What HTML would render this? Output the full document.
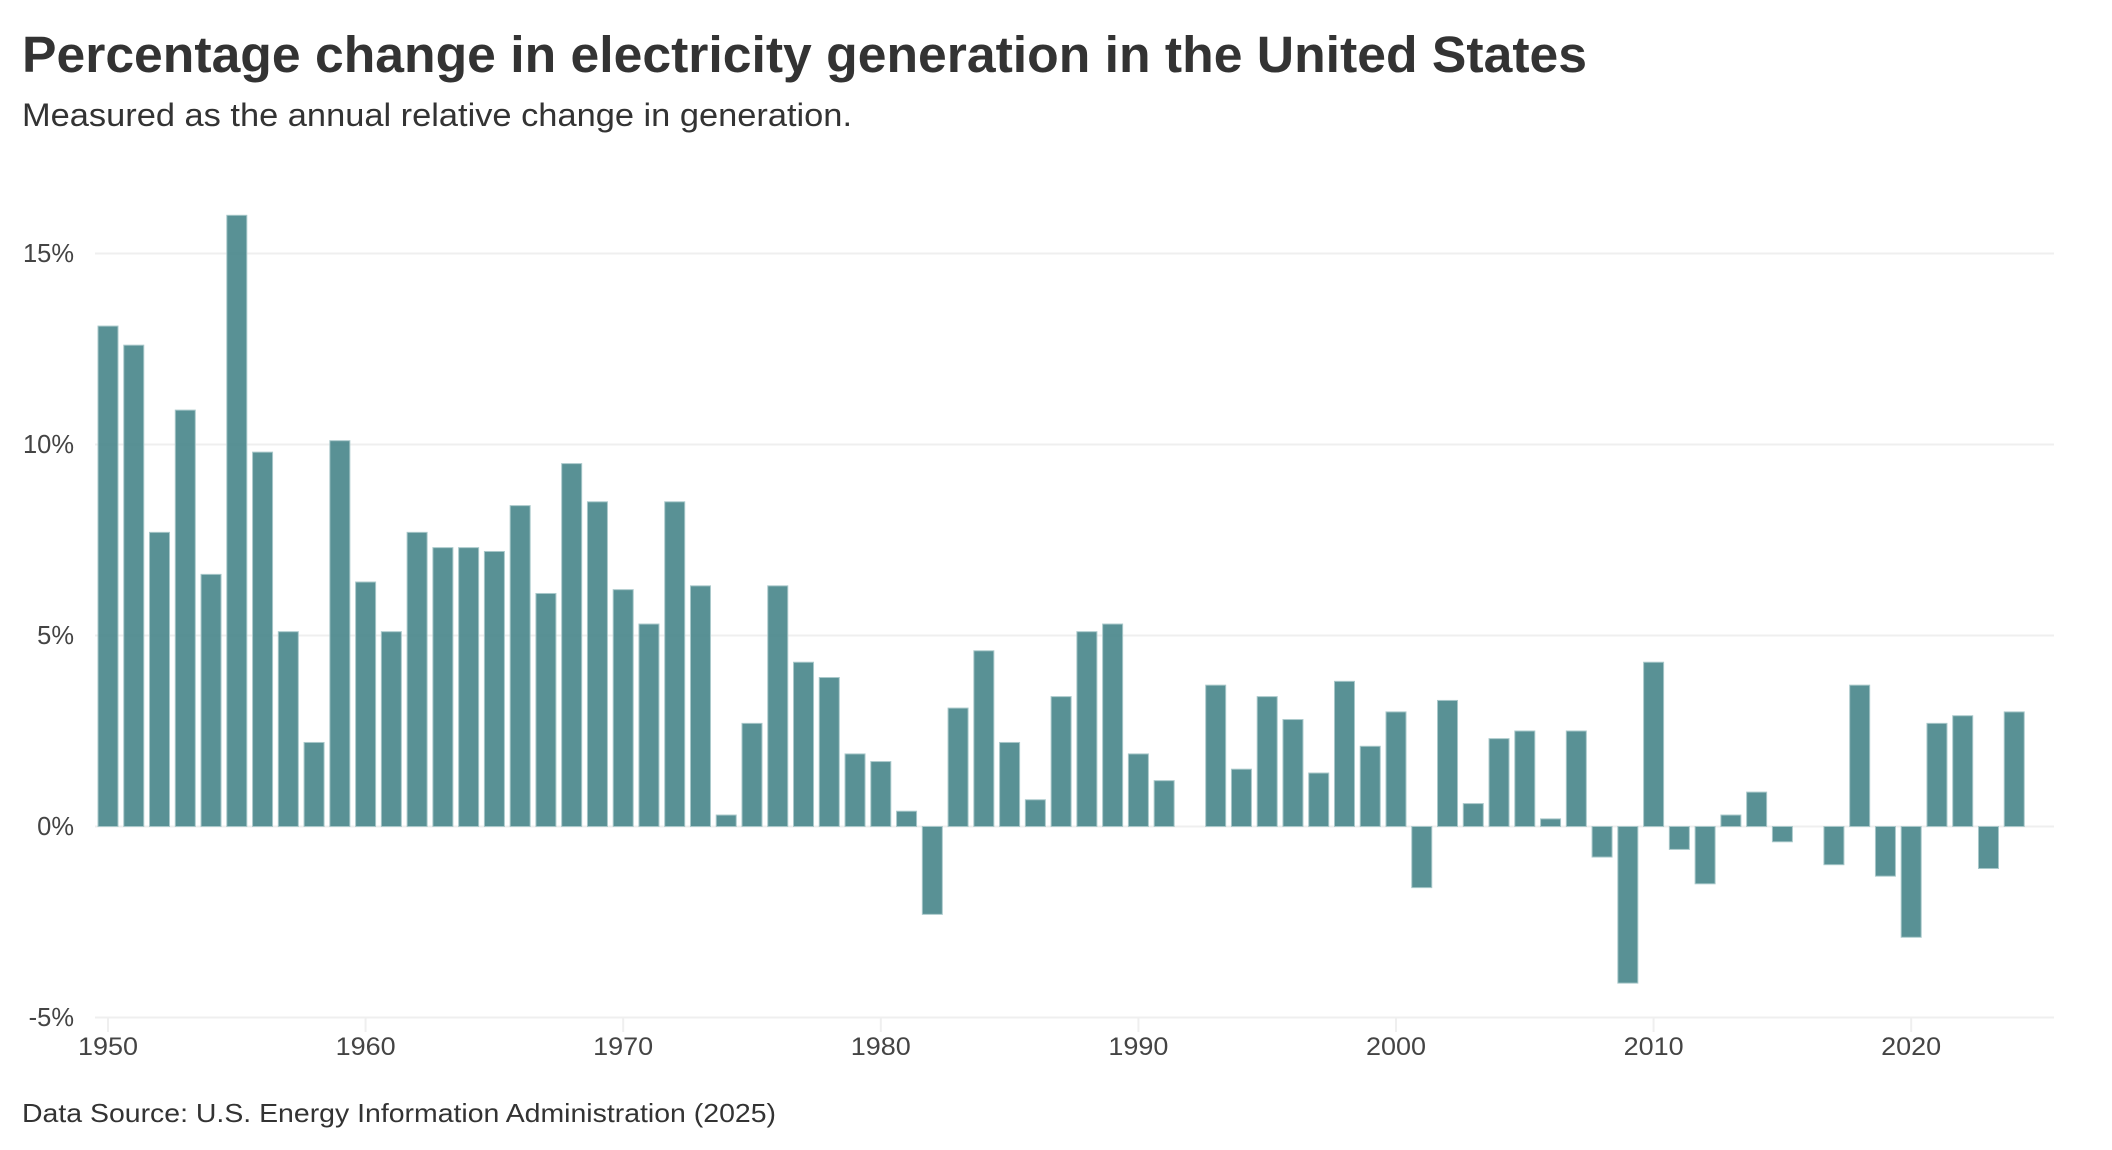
<!DOCTYPE html>
<html lang="en">
<head>
<meta charset="utf-8">
<title>Percentage change in electricity generation in the United States</title>
<style>
  html, body { margin: 0; padding: 0; background: #ffffff; }
  svg { display: block; font-family: "Liberation Sans", sans-serif; }
</style>
</head>
<body>
<svg id="chart" xmlns="http://www.w3.org/2000/svg" width="2112" height="1150" viewBox="0 0 2112 1150">
  <rect x="0" y="0" width="2112" height="1150" fill="#ffffff"/>
  <text x="22" y="72" font-size="51" font-weight="700" fill="#333333" textLength="1565" lengthAdjust="spacingAndGlyphs">Percentage change in electricity generation in the United States</text>
  <text x="22" y="126" font-size="32" fill="#333333" textLength="830" lengthAdjust="spacingAndGlyphs">Measured as the annual relative change in generation.</text>
  <g id="grid"></g>
  <g id="x-axis"></g>
  <g id="y-axis"></g>
  <g id="bars"></g>
  <text x="22" y="1122" font-size="26" fill="#333333" textLength="754" lengthAdjust="spacingAndGlyphs">Data Source: U.S. Energy Information Administration (2025)</text>
</svg>
<script>
const firstYear = 1950;
const values = [
  13.1, 12.6, 7.7, 10.9, 6.6, 16.0, 9.8, 5.1, 2.2, 10.1,
  6.4, 5.1, 7.7, 7.3, 7.3, 7.2, 8.4, 6.1, 9.5, 8.5,
  6.2, 5.3, 8.5, 6.3, 0.3, 2.7, 6.3, 4.3, 3.9, 1.9,
  1.7, 0.4, -2.3, 3.1, 4.6, 2.2, 0.7, 3.4, 5.1, 5.3,
  1.9, 1.2, 0.0, 3.7, 1.5, 3.4, 2.8, 1.4, 3.8, 2.1,
  3.0, -1.6, 3.3, 0.6, 2.3, 2.5, 0.2, 2.5, -0.8, -4.1,
  4.3, -0.6, -1.5, 0.3, 0.9, -0.4, 0.0, -1.0, 3.7, -1.3,
  -2.9, 2.7, 2.9, -1.1, 3.0
];
const xTickYears = [1950, 1960, 1970, 1980, 1990, 2000, 2010, 2020];
const yTickValues = [-5, 0, 5, 10, 15];

const SVG_NS = 'http://www.w3.org/2000/svg';

function xScale(year) {
  return 108 + (year - 1950) * 25.76;
}
function yScale(pct) {
  return 826.5 - pct * 38.2;
}
function make(tag, parent, attrs) {
  const el = document.createElementNS(SVG_NS, tag);
  for (const key in attrs) {
    el.setAttribute(key, attrs[key]);
  }
  parent.appendChild(el);
  return el;
}

const gridLayer = document.getElementById('grid');
const xAxisLayer = document.getElementById('x-axis');
const yAxisLayer = document.getElementById('y-axis');
const barLayer = document.getElementById('bars');

yTickValues.forEach(function (tick) {
  const y = yScale(tick);
  const line = make('line', gridLayer, { x1: 95, x2: 2054, y1: y, y2: y, stroke: '#efefef', 'stroke-width': 2 });
  
  
  const label = make('text', yAxisLayer, { x: 74, y: y + 8.7, 'font-size': 25.5, 'text-anchor': 'end', fill: '#444444' });
  
  
  label.textContent = tick + '%';
});

xTickYears.forEach(function (year) {
  const x = xScale(year);
  const tick = make('line', xAxisLayer, { x1: x, x2: x, y1: yScale(-5), y2: yScale(-5) + 14.5, stroke: '#efefef', 'stroke-width': 2 });
  
  
  const label = make('text', xAxisLayer, { x: x, y: 1055, 'font-size': 25, 'text-anchor': 'middle', fill: '#444444', textLength: 60, lengthAdjust: 'spacingAndGlyphs' });
  
  
  label.textContent = String(year);
});

values.forEach(function (value, i) {
  const year = firstYear + i;
  const top = Math.min(yScale(value), yScale(0));
  const height = Math.abs(yScale(value) - yScale(0));
  const bar = make('rect', barLayer, {
    x: xScale(year) - 10,
    y: top,
    width: 20,
    height: height,
    fill: '#4c898d',
    'fill-opacity': 0.93,
    stroke: '#a9c8ca',
    'stroke-width': 1
  });
  
  
});
</script>
</body>
</html>
